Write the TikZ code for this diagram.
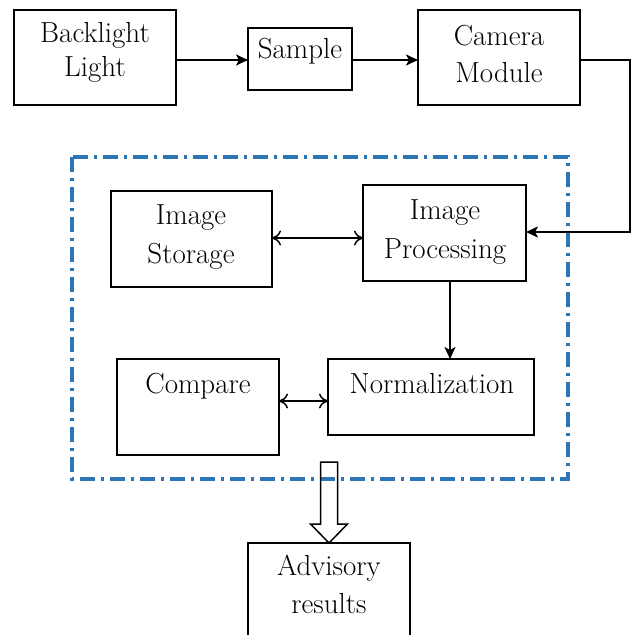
\documentclass[tikz,border=0pt]{standalone}
\usepackage{fontspec}
\usetikzlibrary{arrows.meta,calc}
\definecolor{frameblue}{RGB}{46,117,182}
\tikzset{
  box/.style={draw=black, line width=1.3pt, inner sep=0pt, outer sep=0pt, fill=none},
  lbl/.style={anchor=base, inner sep=0pt, font=\fontsize{29}{38}\selectfont},
  arr/.style={draw=black, line width=1.8pt, line join=miter, -{Stealth[length=12pt,width=11pt,inset=3pt]}},
  darr/.style={draw=black, line width=1.5pt, {Computer Modern Rightarrow[length=9pt,width=15pt]}-{Computer Modern Rightarrow[length=9pt,width=15pt]}},
  frame/.style={draw=frameblue, line width=3.2pt, dash pattern=on 15pt off 6pt on 3pt off 6pt},
  hollow/.style={draw=black, line width=1.5pt, line join=miter}
}
\begin{document}
\begin{tikzpicture}[x=1pt,y=-1pt]
\useasboundingbox (0,0) rectangle (633,635);
\clip (0,0) rectangle (633,635);
\fill[white] (0,0) rectangle (633,635);

% frame
\draw[frame] (72,157) rectangle (568,479);

% boxes
\node[box, minimum width=162pt, minimum height=95pt] (bl) at (95,57.5) {};
\node[box, minimum width=104pt, minimum height=62pt] (sa) at (300,59) {};
\node[box, minimum width=162pt, minimum height=95pt] (cm) at (499,57.5) {};
\node[box, minimum width=161pt, minimum height=96pt] (is) at (191.5,239) {};
\node[box, minimum width=163pt, minimum height=96pt] (ip) at (444.5,233) {};
\node[box, minimum width=162pt, minimum height=96pt] (co) at (198,407) {};
\node[box, minimum width=206pt, minimum height=76pt] (no) at (431,397) {};
\node[box, minimum width=162pt, minimum height=117pt] (ad) at (329,601.5) {};

% texts
\node[lbl] (t1) at (95,42) {Backlight};
\node[lbl] (t2) at (95,76) {Light};
\node[lbl] (t3) at (300,58) {Sample};
\node[lbl] (t4) at (499,45) {Camera};
\node[lbl] (t5) at (499,82) {Module};
\node[lbl] (t6) at (191,224) {Image};
\node[lbl] (t7) at (191,263) {Storage};
\node[lbl] (t8) at (445,219) {Image};
\node[lbl] (t9) at (445,258) {Processing};
\node[lbl] (t10) at (198,393) {Compare};
\node[lbl] (t11) at (432,393) {Normalization};
\node[lbl] (t12) at (329,575) {Advisory};
\node[lbl] (t13) at (329,613) {results};

% connectors
\draw[arr] (bl.east |- 0,60) -- (sa.west |- 0,60);
\draw[arr] (sa.east |- 0,60) -- (cm.west |- 0,60);
\coordinate (c1) at (630,60);
\coordinate (c2) at (630,232);
\draw[arr] (cm.east |- c1) -- (c1) -- (c2) -- (ip.east |- c2);
\draw[darr] (is.east |- 0,238) -- (ip.west |- 0,238);
\draw[arr] (ip.south -| 450,0) -- (no.north -| 450,0);
\draw[darr] (co.east |- 0,401) -- (no.west |- 0,401);

% hollow arrow
\draw[hollow] ($(ad.north)+(-8.5,-81)$) -- ($(ad.north)+(8.5,-81)$) -- ($(ad.north)+(8.5,-19)$) -- ($(ad.north)+(18.5,-19)$) -- (ad.north) -- ($(ad.north)+(-18.5,-19)$) -- ($(ad.north)+(-8.5,-19)$) -- cycle;
\end{tikzpicture}
\end{document}
